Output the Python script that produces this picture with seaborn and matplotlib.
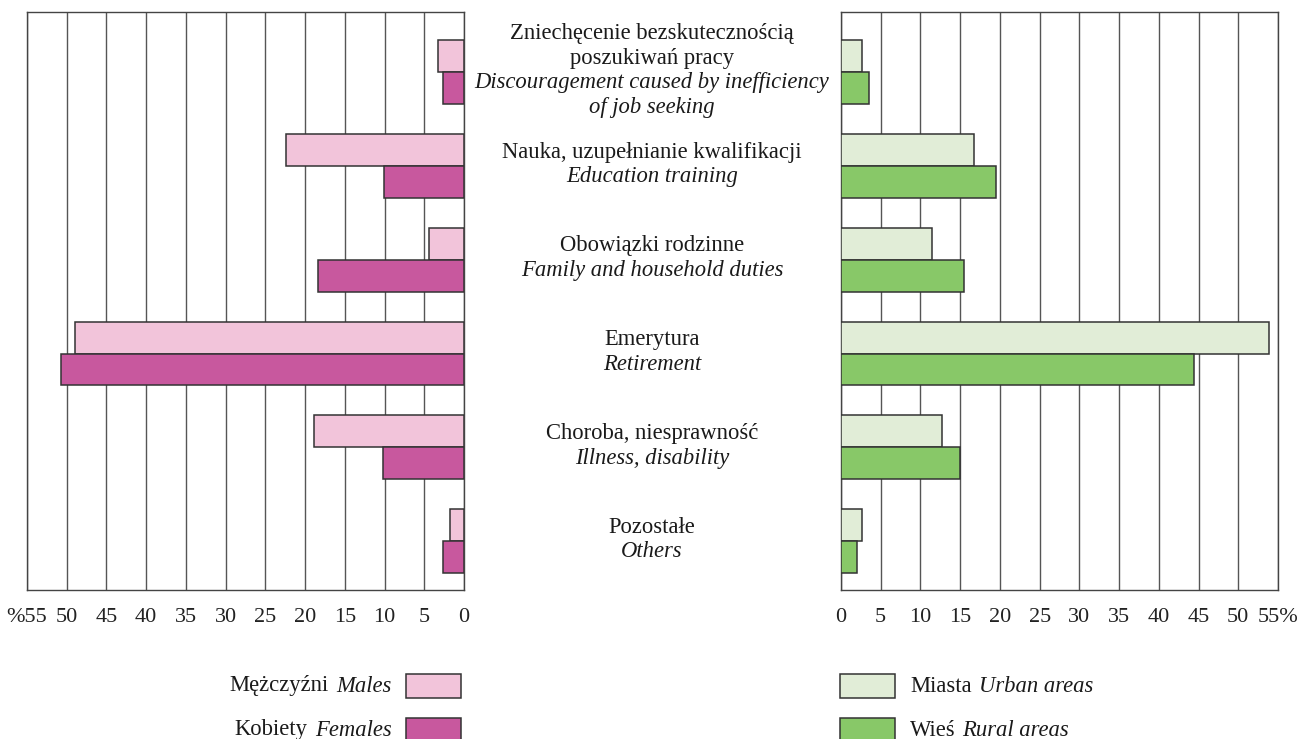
import matplotlib
matplotlib.use("Agg")
import matplotlib.pyplot as plt
import seaborn as sns
import pandas as pd
from matplotlib.patches import Rectangle
from matplotlib.transforms import blended_transform_factory, offset_copy

sns.set_theme(style="white")
plt.rcParams['font.family'] = ['Liberation Serif', 'DejaVu Serif']

# ---------------- data ----------------
cat_pl = [
    ["Zniechęcenie bezskutecznością", "poszukiwań pracy"],
    ["Nauka, uzupełnianie kwalifikacji"],
    ["Obowiązki rodzinne"],
    ["Emerytura"],
    ["Choroba, niesprawność"],
    ["Pozostałe"],
]
cat_en = [
    ["Discouragement caused by inefficiency", "of job seeking"],
    ["Education training"],
    ["Family and household duties"],
    ["Retirement"],
    ["Illness, disability"],
    ["Others"],
]
categories = ["Discouragement", "Education", "Family", "Retirement", "Illness", "Others"]
males   = [3.3, 22.4, 4.4, 48.9, 18.9, 1.7]
females = [2.7, 10.1, 18.4, 50.7, 10.2, 2.6]
urban   = [2.6, 16.7, 11.4, 53.9, 12.7, 2.6]
rural   = [3.5, 19.5, 15.5, 44.4, 15.0, 2.0]

sex_labels  = [("Mężczyźni", "Males"), ("Kobiety", "Females")]
area_labels = [("Miasta", "Urban areas"), ("Wieś", "Rural areas")]
ticks = list(range(0, 56, 5))
left_ticklabels = [str(t) for t in ticks[:-1]] + ["%55"]
right_ticklabels = [str(t) for t in ticks[:-1]] + ["55%"]

c_m, c_f = "#F2C4DA", "#C8589E"
c_u, c_r = "#E1EDD7", "#88C868"
edge = "#333333"
FS = 16.3

df_sex = pd.DataFrame({
    "cat": categories * 2,
    "val": males + females,
    "grp": ["M"] * 6 + ["F"] * 6,
})
df_area = pd.DataFrame({
    "cat": categories * 2,
    "val": urban + rural,
    "grp": ["U"] * 6 + ["R"] * 6,
})

W, H = 1314, 739
fig = plt.figure(figsize=(W / 100, H / 100), dpi=100)
axL = fig.add_axes([27 / W, 1 - 590 / H, (464 - 27) / W, (590 - 12) / H])
axR = fig.add_axes([841 / W, 1 - 590 / H, (1278 - 841) / W, (590 - 12) / H])

sns.barplot(data=df_sex, y="cat", x="val", hue="grp", orient="h", ax=axL,
            palette={"M": c_m, "F": c_f}, width=0.68, edgecolor=edge, saturation=1,
            linewidth=1.1, legend=False, zorder=3)
sns.barplot(data=df_area, y="cat", x="val", hue="grp", orient="h", ax=axR,
            palette={"U": c_u, "R": c_r}, width=0.68, edgecolor=edge, saturation=1,
            linewidth=1.1, legend=False, zorder=3)

for ax, lims, labels in [(axL, (55, 0), left_ticklabels), (axR, (0, 55), right_ticklabels)]:
    ax.set_xlim(*lims)
    ax.set_ylim(5.52, -0.64)
    ax.set_xticks(ticks)
    ax.set_xticklabels(labels, fontsize=FS - 0.3)
    ax.set_yticks([])
    ax.set_xlabel("")
    ax.set_ylabel("")
    ax.tick_params(axis="x", length=0, pad=13, colors="#222222")
    ax.xaxis.grid(True, color="#555555", linewidth=1.0, zorder=0)
    ax.set_axisbelow(True)
    for s in ax.spines.values():
        s.set_visible(True)
        s.set_color("#444444")
        s.set_linewidth(1.0)

# ---------------- category labels ----------------
trans = blended_transform_factory(fig.transFigure, axL.transData)
cx = 652 / W
line_px = 24.5
for i in range(len(categories)):
    lines = [(t, "normal") for t in cat_pl[i]] + [(t, "italic") for t in cat_en[i]]
    n = len(lines)
    for j, (txt, st) in enumerate(lines):
        off_px = -1.5 + (j - (n - 1) / 2) * line_px  # positive = downward
        tr = offset_copy(trans, fig=fig, x=0, y=-off_px * 0.72, units="points")
        fig.text(cx, i, txt, transform=tr, ha="center", va="center",
                 fontsize=FS, style=st, color="#1a1a1a")

# ---------------- legends ----------------
fig.canvas.draw()
renderer = fig.canvas.get_renderer()


def fx(px):
    return px / W


def fy(py):
    return 1 - py / H


rows = [(686, 0), (730, 1)]
for (yc, k) in rows:
    # left legend
    col = c_m if k == 0 else c_f
    fig.add_artist(Rectangle((fx(406), fy(yc + 12)), fx(461) - fx(406), fy(yc - 12) - fy(yc + 12),
                             transform=fig.transFigure, facecolor=col, edgecolor=edge, linewidth=1.1))
    pl, en = sex_labels[k]
    t_en = fig.text(fx(392), fy(yc), en, ha="right", va="center", fontsize=FS, style="italic", color="#1a1a1a")
    bb = t_en.get_window_extent(renderer)
    fig.text(bb.x0 / W - 8 / W, fy(yc), pl, ha="right", va="center", fontsize=FS, color="#1a1a1a")

    # right legend
    col = c_u if k == 0 else c_r
    fig.add_artist(Rectangle((fx(840), fy(yc + 12)), fx(895) - fx(840), fy(yc - 12) - fy(yc + 12),
                             transform=fig.transFigure, facecolor=col, edgecolor=edge, linewidth=1.1))
    pl, en = area_labels[k]
    t_pl = fig.text(fx(910), fy(yc), pl, ha="left", va="center", fontsize=FS, color="#1a1a1a")
    bb = t_pl.get_window_extent(renderer)
    fig.text(bb.x1 / W + 7 / W, fy(yc), en, ha="left", va="center", fontsize=FS, style="italic", color="#1a1a1a")

fig.savefig("out.png", dpi=100)
